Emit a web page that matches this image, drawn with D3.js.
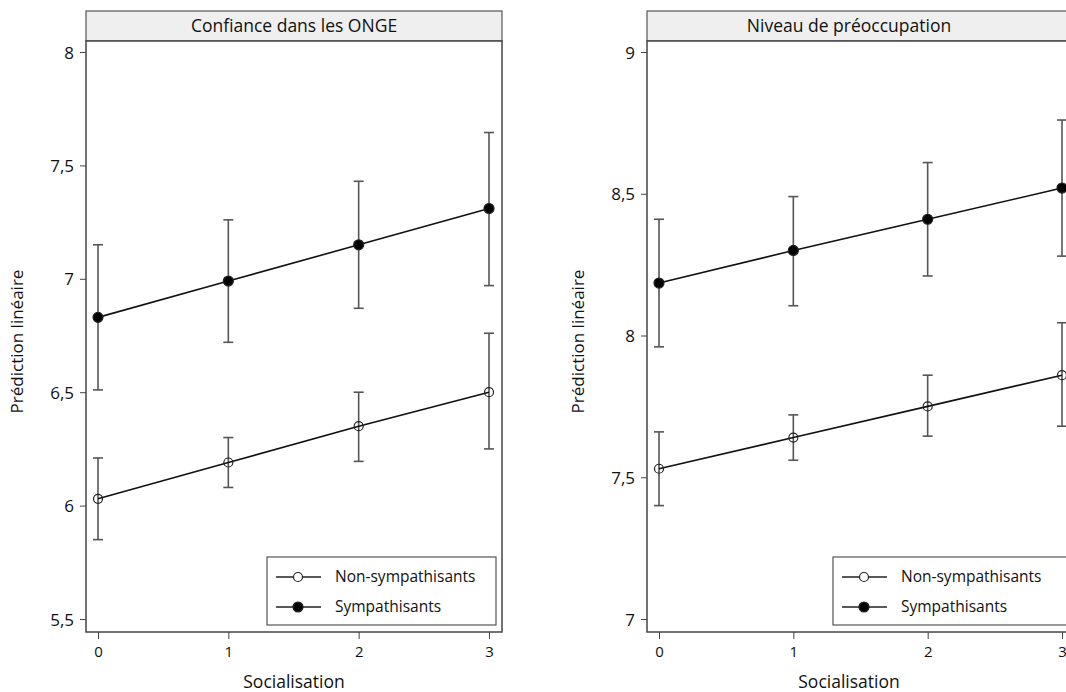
<!DOCTYPE html>
<html>
<head>
<meta charset="utf-8">
<script src="https://cdn.jsdelivr.net/npm/d3@7"></script>
<style>
  body { margin: 0; background: #fff; }
  svg { font-family: "Open Sans", "Noto Sans", sans-serif; }
</style>
</head>
<body>
<div id="chart"></div>
<script>
// data
const socialisation = [0, 1, 2, 3];
const groups = ['Non-sympathisants', 'Sympathisants'];

const confianceNon = [6.03, 6.19, 6.35, 6.50];
const confianceNonLo = [5.85, 6.08, 6.195, 6.25];
const confianceNonHi = [6.21, 6.30, 6.50, 6.76];
const confianceSym = [6.83, 6.99, 7.15, 7.31];
const confianceSymLo = [6.51, 6.72, 6.87, 6.97];
const confianceSymHi = [7.15, 7.26, 7.43, 7.645];

const preoccNon = [7.53, 7.64, 7.75, 7.86];
const preoccNonLo = [7.40, 7.56, 7.645, 7.68];
const preoccNonHi = [7.66, 7.72, 7.86, 8.045];
const preoccSym = [8.185, 8.30, 8.41, 8.52];
const preoccSymLo = [7.96, 8.105, 8.21, 8.28];
const preoccSymHi = [8.41, 8.49, 8.61, 8.76];

const confianceTicks = [5.5, 6, 6.5, 7, 7.5, 8];
const preoccTicks = [7, 7.5, 8, 8.5, 9];

const fr = d3.formatLocale({ decimal: ',', thousands: ' ', grouping: [3], currency: ['', ' €'] });
const fmt = fr.format('~g');

const W = 1066, H = 692;
const svg = d3.select('#chart').append('svg').attr('width', W).attr('height', H);

const panels = [
  { title: 'Confiance dans les ONGE', fx: 86, fw: 416, domain: [5.5, 8], ticks: confianceTicks,
    series: [
      { mean: confianceNon, lo: confianceNonLo, hi: confianceNonHi, filled: false },
      { mean: confianceSym, lo: confianceSymLo, hi: confianceSymHi, filled: true }
    ] },
  { title: 'Niveau de préoccupation', fx: 647, fw: 428, domain: [7, 9], ticks: preoccTicks,
    series: [
      { mean: preoccNon, lo: preoccNonLo, hi: preoccNonHi, filled: false },
      { mean: preoccSym, lo: preoccSymLo, hi: preoccSymHi, filled: true }
    ] }
];

const headTop = 11, plotTop = 41, plotBottom = 632;

panels.forEach((p, pi) => {
  const g = svg.append('g');
  const x = d3.scaleLinear().domain([0, 3]).range([p.fx + 12, p.fx + p.fw - 13]);
  const y = d3.scaleLinear().domain(p.domain).range([619, 52]);

  // header strip
  g.append('rect')
    .attr('x', p.fx).attr('y', headTop).attr('width', p.fw).attr('height', plotTop - headTop)
    .attr('fill', '#efefef').attr('stroke', '#555').attr('stroke-width', 1.2);
  g.append('text')
    .attr('x', p.fx + p.fw / 2 + (pi === 1 ? -12 : 0)).attr('y', headTop + 21)
    .attr('text-anchor', 'middle').style('font-size', '17.5px').attr('fill', '#111')
    .text(p.title);

  // plot frame
  g.append('rect')
    .attr('x', p.fx).attr('y', plotTop).attr('width', p.fw).attr('height', plotBottom - plotTop)
    .attr('fill', '#fff').attr('stroke', '#444').attr('stroke-width', 1.5);

  // axes
  const yAxis = g.append('g')
    .attr('transform', `translate(${p.fx},0)`)
    .call(d3.axisLeft(y).tickValues(p.ticks).tickSize(6).tickPadding(6).tickFormat(fmt));
  yAxis.select('.domain').remove();
  yAxis.attr('font-family', null).attr('font-size', null);
  yAxis.selectAll('line').attr('stroke', '#444');
  yAxis.selectAll('text').style('font-size', '17px').attr('fill', '#111').attr('dy', '0.36em');

  const xAxis = g.append('g')
    .attr('transform', `translate(0,${plotBottom})`)
    .call(d3.axisBottom(x).tickValues(socialisation).tickSize(7).tickPadding(7).tickFormat(d3.format('d')));
  xAxis.select('.domain').remove();
  xAxis.attr('font-family', null).attr('font-size', null);
  xAxis.selectAll('line').attr('stroke', '#444');
  xAxis.selectAll('text').style('font-size', '15px').attr('fill', '#111');

  g.append('text')
    .attr('x', p.fx + p.fw / 2 - (pi === 1 ? 12 : 0)).attr('y', 688)
    .attr('text-anchor', 'middle').style('font-size', '17.5px').attr('fill', '#111')
    .text('Socialisation');

  g.append('text')
    .attr('transform', `translate(${p.fx - 63},${(plotTop + plotBottom) / 2 + 5}) rotate(-90)`)
    .attr('text-anchor', 'middle').style('font-size', '17px').attr('fill', '#111')
    .text('Prédiction linéaire');

  const line = d3.line().x((d, i) => x(socialisation[i])).y(d => y(d));

  p.series.forEach(s => {
    // error bars
    const eb = g.append('g').attr('stroke', '#555').attr('stroke-width', 1.6);
    socialisation.forEach((v, i) => {
      eb.append('line').attr('x1', x(v)).attr('x2', x(v)).attr('y1', y(s.lo[i])).attr('y2', y(s.hi[i]));
      eb.append('line').attr('x1', x(v) - 5).attr('x2', x(v) + 5).attr('y1', y(s.lo[i])).attr('y2', y(s.lo[i]));
      eb.append('line').attr('x1', x(v) - 5).attr('x2', x(v) + 5).attr('y1', y(s.hi[i])).attr('y2', y(s.hi[i]));
    });
    g.append('path').datum(s.mean)
      .attr('d', line).attr('fill', 'none').attr('stroke', '#111').attr('stroke-width', 1.6);
    g.selectAll(null).data(s.mean).enter().append('circle')
      .attr('cx', (d, i) => x(socialisation[i])).attr('cy', d => y(d))
      .attr('r', s.filled ? 5 : 4.5)
      .attr('fill', s.filled ? '#000' : 'none')
      .attr('stroke', '#222').attr('stroke-width', 1.2);
  });

  // legend
  const lx = pi === 0 ? 267 : 833;
  const lw = pi === 0 ? 229 : 236;
  const leg = g.append('g');
  leg.append('rect').attr('x', lx).attr('y', 557).attr('width', lw).attr('height', 68)
    .attr('fill', '#fff').attr('stroke', '#555').attr('stroke-width', 1.2);
  groups.forEach((name, i) => {
    const ly = 577 + i * 30;
    leg.append('line').attr('x1', lx + 9).attr('x2', lx + 54).attr('y1', ly).attr('y2', ly)
      .attr('stroke', '#222').attr('stroke-width', 1.6);
    leg.append('circle').attr('cx', lx + 31).attr('cy', ly).attr('r', i ? 5 : 4.5)
      .attr('fill', i ? '#000' : '#fff').attr('stroke', '#222').attr('stroke-width', 1.2);
    leg.append('text').attr('x', lx + 68).attr('y', ly + 5).style('font-size', '15.5px').attr('fill', '#111')
      .text(name);
  });
});
</script>
</body>
</html>
